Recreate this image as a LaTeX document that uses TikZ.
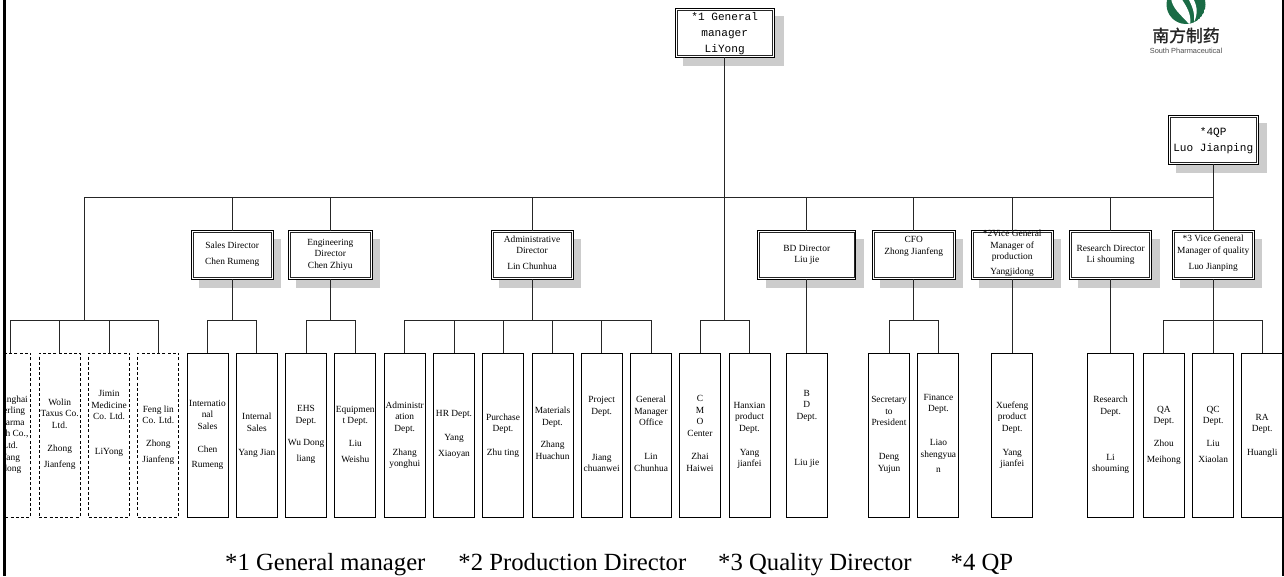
\documentclass[tikz,border=0pt]{standalone}
\usepackage{fontspec}
\setmainfont{Liberation Serif}
\newfontfamily\monof{Liberation Mono}
\newfontfamily\cjkf[FakeBold=1.5]{Noto Sans CJK SC}
\newfontfamily\logof{Liberation Sans}
\definecolor{logogreen}{HTML}{1A6B45}
\tikzset{
  wire/.style={draw=black!85,line width=0.9pt},
  deptbox/.style={draw=black,line width=0.9pt,fill=white,minimum height=164pt,anchor=north,inner sep=0pt,outer sep=0pt},
  compbox/.style={deptbox,dash pattern=on 3pt off 2.2pt},
  deptlabel/.style={anchor=north,inner sep=0pt,outer sep=0pt,align=center,font=\fontsize{9.4}{11.6}\selectfont},
  dirbox/.style={draw=black,line width=0.9pt,fill=white,anchor=north,inner sep=0pt,outer sep=0pt},
  dirinner/.style={draw=black!85,line width=0.8pt},
  shadowbox/.style={fill=black!20,draw=none},
  toplabel/.style={anchor=north,inner sep=0pt,outer sep=0pt,align=center,font=\monof\fontsize{11.1}{16.4}\selectfont},
}
\newcommand{\innerframe}[1]{%
  \draw[dirinner] ([xshift=1.9pt,yshift=-1.9pt]#1.north west) rectangle ([xshift=-1.9pt,yshift=1.9pt]#1.south east);
}
\newcommand{\deptnode}[6][deptbox]{%
  \node[#1,minimum width=#4pt] (#2) at (#3,353) {};
  \node[deptlabel] (#2-t) at (#3,#5-5) {\rule{0pt}{7pt}#6};
}
\newcommand{\dirnode}[7]{%
  \fill[shadowbox] (#2-#3/2+8,#4+8) rectangle (#2+#3/2+8,#4+#5+9);
  \node[dirbox,minimum width=#3pt,minimum height=#5pt] (#1) at (#2,#4) {};
  \innerframe{#1}
  \node[deptlabel] (#1-t) at (#2,#6-5) {\rule{0pt}{7pt}#7};
}
\begin{document}
\begin{tikzpicture}[x=1pt,y=-1pt]
\useasboundingbox (0,0) rectangle (1284,576);
\begin{scope}
\clip (4.5,0) rectangle (1281.8,576);
% Top boxes
\fill[shadowbox] (683.3,16) rectangle (784,66.3);
\node[dirbox,minimum width=99pt,minimum height=49pt] (gm) at (724.7,8.3) {};
\innerframe{gm}
\node[toplabel] (gm-t) at (724.7,12) {*1 General\\manager\\LiYong};
\fill[shadowbox] (1176,123) rectangle (1267,173);
\node[dirbox,minimum width=90pt,minimum height=49pt] (qp) at (1213.2,115.3) {};
\innerframe{qp}
\node[toplabel] (qp-t) at (1213.2,127.5) {*4QP\\Luo Jianping};
% Directors
\dirnode{sd}{232.2}{82}{230.7}{48.6}{246}{Sales Director\\[4.7pt]Chen Rumeng}
\dirnode{ed}{330.3}{84}{230.7}{48.6}{243}{Engineering\\Director\\Chen Zhiyu}
\dirnode{ad}{532}{82}{230.7}{48.6}{240}{Administrative\\Director\\[4.4pt]Lin Chunhua}
\dirnode{bd}{806.8}{98}{230.7}{48.6}{249}{BD Director\\Liu jie}
\dirnode{cf}{913.7}{83}{230.7}{48.6}{240.7}{CFO\\Zhong Jianfeng}
\dirnode{vp}{1012.2}{82}{230.7}{48.6}{234.7}{*2Vice General\\Manager of\\production\\[3.4pt]Yangjidong}
\dirnode{rd}{1110.6}{82}{230.7}{48.6}{249}{Research Director\\Li shouming}
\dirnode{vq}{1213.2}{82}{230.7}{48.6}{239.7}{*3 Vice General\\Manager of quality\\[4.4pt]Luo Jianping}
% Departments
\deptnode[compbox]{c1}{10.3}{41}{400}{Shanghai\\Sterling\\Pharma\\Tech Co.,\\Ltd.\\Yang\\\hspace{3pt}dong}
\deptnode[compbox]{c2}{59.7}{41}{403.3}{Wolin\\Taxus Co.\\Ltd.\\[11.7pt]Zhong\\[3.7pt]Jianfeng}
\deptnode[compbox]{c3}{109}{41}{394.7}{Jimin\\Medicine\\Co. Ltd.\\[23.4pt]LiYong}
\deptnode[compbox]{c4}{158.3}{41}{410}{Feng lin\\Co. Ltd.\\[11.2pt]Zhong\\[4.4pt]Jianfeng}
\deptnode{d1}{207.5}{41}{404}{Internatio\\nal\\Sales\\[11.7pt]Chen\\[3.7pt]Rumeng}
\deptnode{d2}{256.8}{41}{417.7}{Internal\\Sales\\[12.4pt]Yang Jian}
\deptnode{d3}{306}{41}{409.7}{EHS\\Dept.\\[11pt]Wu Dong\\[4.4pt]liang}
\deptnode{d4}{355.3}{41}{410}{Equipmen\\t Dept.\\[11pt]Liu\\[4.6pt]Weishu}
\deptnode{d5}{404.7}{41}{406}{Administr\\ation\\Dept.\\[12.4pt]Zhang\\yonghui}
\deptnode{d6}{454}{41}{414.7}{HR Dept.\\[12.4pt]Yang\\[3.7pt]Xiaoyan}
\deptnode{d7}{503}{41}{418}{Purchase\\Dept.\\[12.4pt]Zhu ting}
\deptnode{d8}{552.5}{41}{411.7}{Materials\\Dept.\\[11pt]Zhang\\Huachun}
\deptnode{d9}{601.7}{41}{400.7}{Project\\Dept.\\[34.4pt]Jiang\\chuanwei}
\deptnode{d10}{651}{41}{400.7}{General\\Manager\\Office\\[22.4pt]Lin\\Chunhua}
\deptnode{d11}{700}{41}{399.7}{C\\M\\O\\Center\\[11.4pt]Zhai\\Haiwei}
\deptnode{d12}{749.5}{41}{406}{Hanxian\\product\\Dept.\\[12.4pt]Yang\\jianfei}
\deptnode{d13}{806.8}{41}{394}{B\\D\\Dept.\\[34.2pt]Liu jie}
\deptnode{d14}{889}{41}{400.7}{Secretary\\to\\President\\[22.4pt]Deng\\Yujun}
\deptnode{d15}{938.4}{41}{398}{Finance\\Dept.\\[22.4pt]Liao\\shengyua\\[3.4pt]n}
\deptnode{d16}{1012.2}{41}{406}{Xuefeng\\product\\Dept.\\[12.4pt]Yang\\jianfei}
\deptnode{d17}{1110.6}{45.5}{400.7}{Research\\Dept.\\[34.4pt]Li\\shouming}
\deptnode{d18}{1163.8}{41}{410}{QA\\Dept.\\[11.7pt]Zhou\\[4.4pt]Meihong}
\deptnode{d19}{1213.2}{41}{410}{QC\\Dept.\\[11.7pt]Liu\\[4.4pt]Xiaolan}
\deptnode{d20}{1262.2}{41}{418}{RA\\Dept.\\[12.4pt]Huangli}
% Junctions
\coordinate (main) at (724.7,197.5);
\coordinate (b1) at (84,320.5);
\coordinate (b2) at (232.2,320.5);
\coordinate (b3) at (330.3,320.5);
\coordinate (b4) at (532,320.5);
\coordinate (b5) at (724.7,320.5);
\coordinate (b6) at (913.7,320.5);
\coordinate (b7) at (1213.2,320.5);
% Connectors
\draw[wire] (gm.south) -- (b5);
\draw[wire] (qp.south) -- (vq.north);
\draw[wire] (main) -| (b1);
\foreach \t in {sd,ed,ad,bd,cf,vp,rd,vq}{\draw[wire] (main) -| (\t.north);}
\draw[wire] (sd.south) -- (b2);
\draw[wire] (ed.south) -- (b3);
\draw[wire] (ad.south) -- (b4);
\draw[wire] (bd.south) -- (d13.north);
\draw[wire] (cf.south) -- (b6);
\draw[wire] (vp.south) -- (d16.north);
\draw[wire] (rd.south) -- (d17.north);
\draw[wire] (vq.south) -- (d19.north);
\foreach \t in {c1,c2,c3,c4}{\draw[wire] (b1) -| (\t.north);}
\foreach \t in {d1,d2}{\draw[wire] (b2) -| (\t.north);}
\foreach \t in {d3,d4}{\draw[wire] (b3) -| (\t.north);}
\foreach \t in {d5,d6,d7,d8,d9,d10}{\draw[wire] (b4) -| (\t.north);}
\foreach \t in {d11,d12}{\draw[wire] (b5) -| (\t.north);}
\foreach \t in {d14,d15}{\draw[wire] (b6) -| (\t.north);}
\foreach \t in {d18,d19,d20}{\draw[wire] (b7) -| (\t.north);}
% Logo
\begin{scope}
\clip (1186,4.5) circle (19.5);
\fill[logogreen] (1186,4.5) circle (19.5);
\fill[white] (1171,-2) .. controls (1172,8) and (1180,14) .. (1190,25) .. controls (1192,14) and (1186,6) .. (1181,-2) -- cycle;
\fill[white] (1188,-2) .. controls (1192,6) and (1195,12) .. (1194,22) .. controls (1199,12) and (1196,4) .. (1193,-2) -- cycle;
\end{scope}
\node[inner sep=0pt,font=\cjkf\fontsize{16.8}{17}\selectfont,text=black!85] (logo) at (1186,35.5) {南方制药};
\node[inner sep=0pt,font=\logof\fontsize{7.4}{8}\selectfont,text=black!70] (logo-en) at (1186,50.5) {South Pharmaceutical};
\node[inner sep=0pt,anchor=base west,font=\fontsize{24.7}{26}\selectfont] (legend) at (225,570) {*1 General manager\hspace{33pt}*2 Production Director\hspace{32pt}*3 Quality Director\hspace{39pt}*4 QP};
\end{scope}
% Frame
\draw[line width=2.6pt,black] (4.2,0) -- (4.2,576);
\draw[line width=2.4pt,black] (1282.8,0) -- (1282.8,576);
\end{tikzpicture}
\end{document}
